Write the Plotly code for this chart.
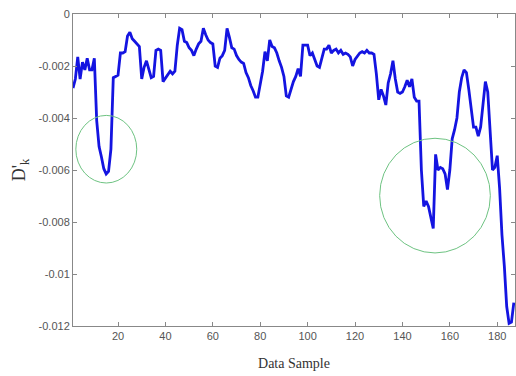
import plotly.graph_objects as go

# sample index and D'_k values (units of 1e-3)
samples = list(range(1, 188))
dk_milli = [
    -2.85, -2.5, -1.65, -2.5, -1.85, -2.15, -1.7, -2.15, -2.15, -1.7,      # 1-10
    -4.1, -5.1, -5.5, -5.95, -6.15, -6.05, -5.2, -2.45, -2.4, -2.35,       # 11-20
    -1.5, -1.5, -1.45, -0.85, -0.7, -0.95, -1.05, -1.15, -1.25, -2.5,      # 21-30
    -2.05, -1.8, -2.15, -2.45, -2.4, -1.4, -1.35, -1.4, -2.6, -2.45,       # 31-40
    -2.3, -2.2, -2.3, -2.2, -1.2, -0.55, -0.6, -1.05, -1.1, -1.3,          # 41-50
    -1.4, -1.6, -1.35, -1.15, -1.05, -0.55, -0.8, -1.0, -1.1, -1.15,       # 51-60
    -2.0, -2.05, -1.7, -1.6, -1.4, -0.55, -0.9, -1.3, -1.35, -1.6,         # 61-70
    -1.75, -1.85, -1.9, -2.25, -2.45, -2.75, -2.95, -3.2, -3.2, -2.75,     # 71-80
    -2.2, -1.45, -1.8, -1.0, -1.25, -1.3, -1.5, -1.8, -2.05, -2.4,         # 81-90
    -3.15, -3.2, -2.85, -2.6, -2.4, -2.1, -2.4, -1.2, -1.2, -1.2,          # 91-100
    -1.6, -1.5, -1.75, -2.0, -2.05, -1.7, -1.35, -1.35, -1.2, -1.5,        # 101-110
    -1.4, -1.35, -1.5, -1.4, -1.55, -1.5, -1.55, -1.65, -2.0, -1.75,       # 111-120
    -1.6, -1.5, -1.45, -1.5, -1.4, -1.5, -1.5, -1.55, -2.3, -3.3,          # 121-130
    -2.9, -3.15, -3.5, -2.65, -2.3, -1.8, -2.5, -3.0, -3.05, -3.0,         # 131-140
    -2.8, -2.55, -2.8, -2.5, -3.2, -3.35, -3.35, -6.0, -7.4, -7.2,         # 141-150
    -7.4, -7.9, -8.25, -5.4, -6.0, -5.9, -5.95, -6.15, -6.75, -6.0,        # 151-160
    -4.8, -4.45, -4.0, -3.0, -2.45, -2.15, -2.25, -2.9, -3.7, -4.35,       # 161-170
    -4.35, -4.7, -4.35, -3.5, -2.6, -3.0, -4.3, -6.0, -5.9, -5.45,         # 171-180
    -6.7, -8.5, -9.7, -11.25, -11.9, -11.85, -11.1,                        # 181-187
]
dk = [v * 1e-3 for v in dk_milli]

x_ticks = [20, 40, 60, 80, 100, 120, 140, 160, 180]
y_ticks = [0, -0.002, -0.004, -0.006, -0.008, -0.01, -0.012]
y_tick_text = ["0", "-0.002", "-0.004", "-0.006", "-0.008", "-0.01", "-0.012"]

# highlighted regions (data coords: x0, x1, y0, y1)
circle_1 = (2.2, 27.9, -0.0039, -0.0065)
circle_2 = (130.4, 177.1, -0.00478, -0.00919)

fig = go.Figure()
fig.add_trace(go.Scatter(
    x=samples, y=dk, mode="lines",
    line=dict(color="rgb(20,20,225)", width=2.8),
    showlegend=False, hoverinfo="skip",
))

for c in (circle_1, circle_2):
    fig.add_shape(type="circle", xref="x", yref="y",
                  x0=c[0], x1=c[1], y0=c[2], y1=c[3],
                  line=dict(color="rgb(110,195,130)", width=1))

axis_common = dict(
    showline=True, linecolor="#888", linewidth=1, mirror="ticks",
    ticks="inside", ticklen=4, tickcolor="#888", showgrid=False, zeroline=False,
    tickfont=dict(family="Liberation Sans, Arial", size=11, color="#555"),
)

fig.update_layout(
    width=516, height=376,
    margin=dict(l=73, r=1, t=14, b=50),
    paper_bgcolor="white", plot_bgcolor="white",
    xaxis=dict(range=[1, 187.5], tickvals=x_ticks,
               title=dict(text="Data Sample", standoff=16,
                          font=dict(family="Liberation Serif, serif", size=14, color="#333")),
               **axis_common),
    yaxis=dict(range=[-0.012, 0], tickvals=y_ticks, ticktext=y_tick_text,
               title=dict(text="D'<sub>k</sub>", standoff=8,
                          font=dict(family="Liberation Serif, serif", size=18, color="#333")),
               **axis_common),
)

fig.write_html("out.html")
